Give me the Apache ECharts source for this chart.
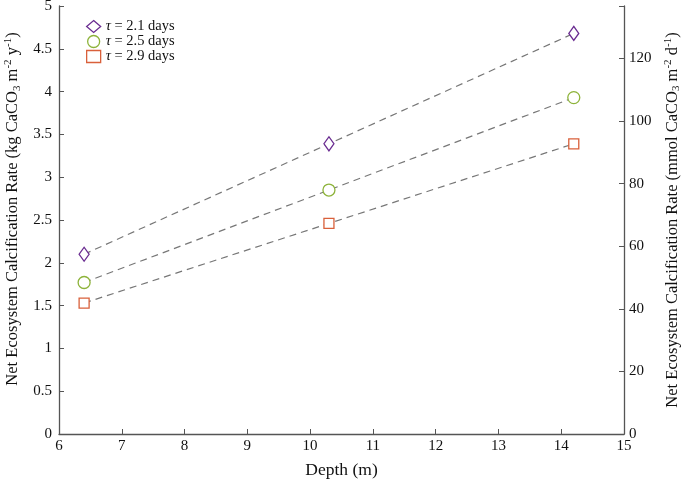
<!DOCTYPE html>
<html>
<head>
<meta charset="utf-8">
<script src="https://cdn.jsdelivr.net/npm/echarts@6/dist/echarts.min.js"></script>
<style>
    html, body { margin: 0; padding: 0; background: #fff; }
    #chart { width: 685px; height: 480px; }
</style>
</head>
<body>
<div id="chart"></div>
<script>
// depth of each site (m)
const depths = [6.4, 10.3, 14.2];
// NEC for each residence time (kg CaCO3 m-2 y-1)
const tau21 = [2.10, 3.39, 4.68];
const tau25 = [1.77, 2.85, 3.93];
const tau29 = [1.53, 2.46, 3.39];
const seriesNames = ["τ = 2.1 days", "τ = 2.5 days", "τ = 2.9 days"];
// kg CaCO3 m-2 y-1 -> mmol CaCO3 m-2 d-1
const kgToMmol = 1e6 / 100.09 / 365.25;

const font = "Liberation Serif";
const axisColor = "#555";

function pairs (ys) {
    return depths.map(function (d, i) { return [d, ys[i]]; });
}

function makeSeries (name, ys, symbol, size, color) {
    return {
        name: name,
        type: "line",
        data: pairs(ys),
        symbol: symbol,
        symbolSize: size,
        showSymbol: true,
        itemStyle: { color: "#fff", borderColor: color, borderWidth: 1.3 },
        lineStyle: { color: "#777", width: 1.2, type: [7, 5] },
        emphasis: { disabled: true },
        z: 3
    };
}

const chart = echarts.init(document.getElementById("chart"));
const rich = {
    sub: { fontFamily: font, fontSize: 11, padding: [8, 0, 0, 0] },
    sup: { fontFamily: font, fontSize: 11, padding: [0, 0, 9, 0] },
    t: { fontFamily: font, fontSize: 16.5 }
};
const option = {
    animation: false,
    grid: { left: 59, right: 61, top: 6, bottom: 46, outerBoundsMode: "none" },
    legend: {
        left: 81,
        top: 14,
        orient: "vertical",
        itemGap: 0,
        itemWidth: 14,
        itemHeight: 12,
        textStyle: {
            fontFamily: font,
            fontSize: 14.5,
            color: "#111",
            rich: { i: { fontFamily: font, fontSize: 14.5, fontStyle: "italic", color: "#111" } }
        },
        formatter: function (name) {
            return name.replace("τ", "{i|τ}");
        },
        data: [
            { name: seriesNames[0], icon: "diamond", itemStyle: { color: "#fff", borderColor: "#6a2c91", borderWidth: 1.3 } },
            { name: seriesNames[1], icon: "circle", itemStyle: { color: "#fff", borderColor: "#8db33a", borderWidth: 1.3 } },
            { name: seriesNames[2], icon: "rect", itemStyle: { color: "#fff", borderColor: "#d9603b", borderWidth: 1.3 } }
        ]
    },
    xAxis: {
        type: "value",
        min: 6,
        max: 15,
        interval: 1,
        name: "Depth (m)",
        nameLocation: "middle",
        nameGap: 27,
        nameTextStyle: { fontFamily: font, fontSize: 17.5, color: "#111" },
        axisLine: { show: true, lineStyle: { color: axisColor, width: 1.3 } },
        axisTick: { show: true, inside: true, length: 5, lineStyle: { color: axisColor } },
        axisLabel: { fontFamily: font, fontSize: 15, color: "#111", margin: 5 },
        splitLine: { show: false }
    },
    yAxis: [
        {
            type: "value",
            min: 0,
            max: 5,
            interval: 0.5,
            name: "{t|Net Ecosystem Calcification Rate (kg CaCO}{sub|3}{t| m}{sup|-2}{t| y}{sup|-1}{t|)}",
            nameLocation: "middle",
            nameGap: 35,
            nameTextStyle: { fontFamily: font, fontSize: 16.5, color: "#111", rich: rich, padding: [0, 0, 0, 22] },
            axisLine: { show: true, lineStyle: { color: axisColor, width: 1.3 } },
            axisTick: { show: true, inside: true, length: 5, lineStyle: { color: axisColor } },
            axisLabel: { fontFamily: font, fontSize: 15, color: "#111", margin: 7 },
            splitLine: { show: false }
        },
        {
            type: "value",
            position: "right",
            min: 0,
            max: 5 * kgToMmol,
            interval: 20,
            name: "{t|Net Ecosystem Calcification Rate (mmol CaCO}{sub|3}{t| m}{sup|-2}{t| d}{sup|-1}{t|)}",
            nameLocation: "middle",
            nameGap: 38,
            nameTextStyle: { fontFamily: font, fontSize: 16.5, color: "#111", rich: rich },
            axisLine: { show: true, lineStyle: { color: axisColor, width: 1.3 } },
            axisTick: { show: true, inside: true, length: 5, lineStyle: { color: axisColor } },
            axisLabel: {
                fontFamily: font, fontSize: 15, color: "#111", margin: 5,
                formatter: function (v) { return Math.abs(v % 20) < 1e-6 ? String(v) : ""; }
            },
            splitLine: { show: false }
        }
    ],
    series: [
        makeSeries(seriesNames[0], tau21, "diamond", [10, 14], "#6a2c91"),
        makeSeries(seriesNames[1], tau25, "circle", 12, "#8db33a"),
        makeSeries(seriesNames[2], tau29, "rect", 10, "#d9603b")
    ]
};
chart.setOption(option);
</script>
</body>
</html>
